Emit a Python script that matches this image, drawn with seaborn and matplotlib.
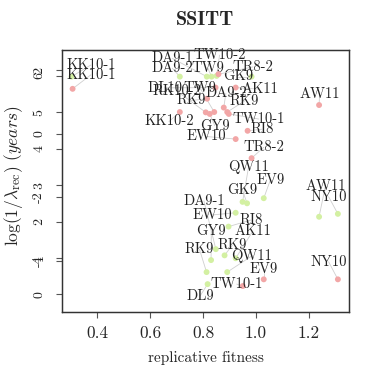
import matplotlib
matplotlib.use("Agg")
import matplotlib.pyplot as plt
import seaborn as sns
import pandas as pd

# red series (scale with ticks -4..2)
red_names = ["KK10-1", "TR8-2", "DL10", "AK11", "RK9", "DA9-2", "KK10-2", "RK10-2", "GY9", "TW9",
             "RK9", "TW10-1", "RI8", "EW10", "TR8-2", "AW11", "EV9", "TW10-1", "NY10"]
red_fit = [0.307, 0.858, 0.847, 0.923, 0.815, 0.878, 0.712, 0.810, 0.825, 0.842,
           0.891, 0.897, 0.968, 0.923, 0.983, 1.238, 1.029, 0.950, 1.309]
red_val = [1.41, 1.87, 1.45, 1.45, 1.10, 0.82, 0.68, 0.67, 0.62, 0.68,
           0.68, 0.62, 0.09, -0.17, -0.77, 0.90, -4.58, -4.79, -4.58]
red_lab_x = [0.376, 0.988, 0.655, 1.014, 0.754, 0.886, 0.671, 0.701, 0.844, 0.788,
             0.957, 1.010, 1.022, 0.813, 1.029, 1.240, 1.029, 0.927, 1.274]
red_lab_y = [1.85, 2.10, 1.44, 1.40, 1.04, 1.27, 0.38, 1.34, 0.25, 1.44,
             1.03, 0.46, 0.14, -0.09, -0.43, 1.25, -4.25, -4.73, -4.03]

# green series (scale with ticks 0..6)
green_names = ["KK10-1", "DA9-2", "DA9-1", "TW9", "TW10-2", "GK9", "QW11", "GK9", "EV9", "EW10",
               "RI8", "DA9-1", "GY9", "RK9", "AK11", "RK9", "QW11", "DL9", "AW11", "NY10"]
green_fit = [0.303, 0.712, 0.814, 0.832, 0.851, 0.983, 0.949, 0.966, 1.029, 0.923,
             0.896, 0.848, 0.830, 0.881, 0.923, 0.813, 0.891, 0.817, 1.238, 1.309]
green_val = [5.98, 5.98, 5.98, 5.98, 6.00, 5.98, 2.54, 2.50, 2.64, 2.24,
             1.86, 1.24, 0.94, 1.07, 0.99, 0.61, 0.61, 0.28, 2.13, 2.21]
green_lab_x = [0.376, 0.684, 0.684, 0.818, 0.862, 0.931, 0.972, 0.948, 1.054, 0.833,
               0.980, 0.803, 0.831, 0.910, 0.988, 0.786, 0.983, 0.789, 1.262, 1.274]
green_lab_y = [6.30, 6.21, 6.48, 6.21, 6.57, 5.98, 3.51, 2.87, 3.14, 2.18,
               2.04, 2.57, 1.74, 1.35, 1.74, 1.24, 1.05, -0.04, 2.98, 2.68]

green_ticks = [0, 1, 2, 3, 4, 5, 6]
red_ticks = [-4, -2, 0, 2]

sns.set_style("white")
plt.rcParams['font.family'] = 'serif'
plt.rcParams['font.serif'] = ['cmr10', 'DejaVu Serif']
plt.rcParams['mathtext.fontset'] = 'cm'
plt.rcParams['axes.unicode_minus'] = False

red_df = pd.DataFrame({"fit": red_fit, "val": red_val})
green_df = pd.DataFrame({"fit": green_fit, "val": green_val})

fig = plt.figure(figsize=(3.74, 3.74), dpi=100)
ax = fig.add_axes([62 / 374, 1 - 312 / 374, 287 / 374, 262.3 / 374])
ax2 = ax.twinx()

def draw(a, df, names, lx, ly, color):
    for i in range(len(names)):
        a.plot([lx[i], df["fit"][i]], [ly[i], df["val"][i]], color="#cfcfcf", lw=0.6, zorder=1)
    sns.scatterplot(data=df, x="fit", y="val", ax=a, color=color, s=18,
                    edgecolor="none", legend=False, zorder=2)
    for i in range(len(names)):
        a.text(lx[i], ly[i], names[i], ha="center", va="center", fontsize=10.5,
               color="#222222", zorder=3)

draw(ax, green_df, green_names, green_lab_x, green_lab_y, "#d3f0a2")
draw(ax2, red_df, red_names, red_lab_x, red_lab_y, "#f2a6a6")

ax.set_xlim(0.267, 1.351)
ax.set_ylim(-0.486, 6.72)
ax2.set_ylim(-5.607, 2.64)

ax.set_xticks([0.4, 0.6, 0.8, 1.0, 1.2])
ax.set_xticklabels(["0.4", "0.6", "0.8", "1.0", "1.2"])
ax.set_yticks(green_ticks)
ax.set_yticklabels([str(t) for t in green_ticks])
ax2.set_yticks(red_ticks)
ax2.set_yticklabels([str(t) for t in red_ticks])
ax2.yaxis.tick_left()

for a in (ax, ax2):
    a.tick_params(axis="y", left=True, right=False, length=4, width=0.8,
                  labelsize=10, labelrotation=90, pad=8, color="#555555")
    for s in a.spines.values():
        s.set_color("#333333")
        s.set_linewidth(0.9)
    a.set_ylabel("")
    a.set_xlabel("")
ax.tick_params(axis="x", bottom=True, length=4, width=0.8, labelsize=12.5, pad=6,
               color="#555555")
for lab in ax.get_yticklabels() + ax2.get_yticklabels():
    lab.set_va("center")

ax.set_xlabel("replicative fitness", fontsize=11, labelpad=7)
ax.set_ylabel(r"log$(1/\lambda_{\mathrm{rec}})$ $(years)$", fontsize=12.5)
ax.yaxis.set_label_coords(-0.13, 0.52)
ax.set_title("SSITT", fontfamily="cmb10", fontsize=14.5, pad=18)

fig.savefig("out.png", dpi=100)
